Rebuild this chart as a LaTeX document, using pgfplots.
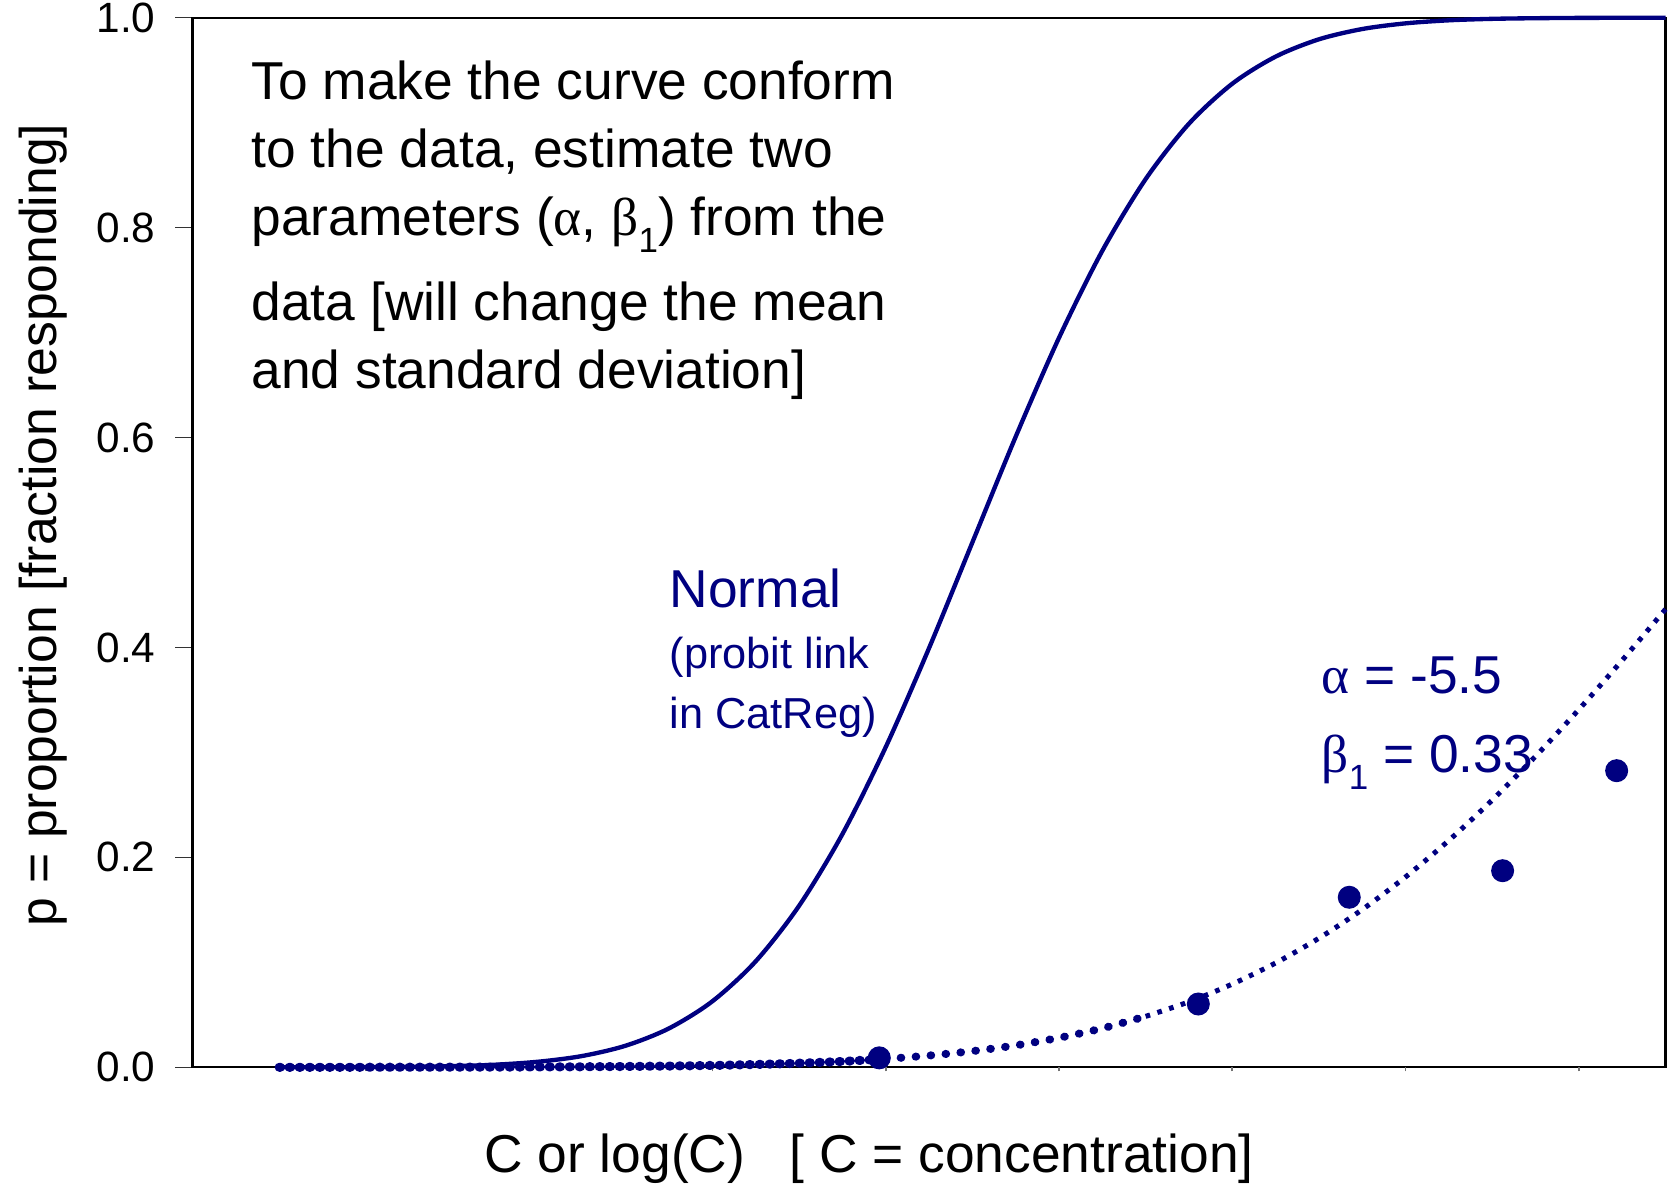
\documentclass[border=0pt]{standalone}
\usepackage{fontspec}
\setmainfont{Liberation Sans}
\newfontfamily\grk{Liberation Serif}
\usepackage{pgfplots}
\pgfplotsset{compat=1.18}
\definecolor{navy}{RGB}{0,0,128}
\newcommand\sub[1]{\raisebox{-0.31em}{\fontsize{10.5}{11}\selectfont #1}}
\begin{document}
\begin{tikzpicture}
\useasboundingbox (0,0) rectangle (502.5pt,355.8pt);
\begin{axis}[
  at={(57.75pt,35.61pt)}, anchor=south west,
  scale only axis, width=441.9pt, height=314.88pt,
  xmin=0, xmax=8.5, ymin=0, ymax=1,
  xtick=\empty,
  extra x ticks={1,2,3,4,5,6,7,8},
  extra x tick labels={},
  extra x tick style={major tick length=1.2pt, tick style={black!55, line width=0.5pt}},
  ytick={0,0.2,0.4,0.6,0.8,1.0},
  tick align=outside, tick pos=left,
  major tick length=5.25pt,
  y tick style={black!80, line width=0.4pt},
  axis line style={line width=0.7pt},
  yticklabel style={font=\fontsize{12.7}{14}\selectfont, inner sep=0pt, xshift=-5.7pt},
  /pgf/number format/.cd, fixed, fixed zerofill, precision=1, assume math mode=true,
  /pgfplots/.cd,
  clip=false,
]
% Normal curve (probit)
\addplot[navy, line width=1.3pt, smooth] coordinates {
 (0.5,0.00002) (0.75,0.00007) (1.0,0.00018) (1.25,0.00046) (1.5,0.0011)
 (1.75,0.0025) (2.0,0.0054) (2.25,0.0108) (2.5,0.0206) (2.75,0.0371)
 (3.0,0.0629) (3.25,0.1010) (3.5,0.1538) (3.75,0.2221) (4.0,0.3050)
 (4.25,0.3993) (4.5,0.5) (4.75,0.6007) (5.0,0.6950) (5.25,0.7779)
 (5.5,0.8462) (5.75,0.8990) (6.0,0.9371) (6.25,0.9629) (6.5,0.9794)
 (6.75,0.9892) (7.0,0.9946) (7.25,0.9975) (7.5,0.9989) (7.75,0.9995)
 (8.0,0.9998) (8.25,0.9999) (8.5,1.0)
};
% fitted curve, dotted (three pieces with decreasing dot size)
\addplot[navy, line width=2.7pt, line cap=round, dash pattern=on 0.4pt off 2.6pt, smooth] coordinates {
 (0.5,0.00002) (0.75,0.00003) (1.0,0.00005) (1.25,0.00008) (1.5,0.00013)
 (1.75,0.0002) (2.0,0.00033) (2.25,0.0005) (2.5,0.0008) (2.75,0.0012)
 (3.0,0.0018) (3.25,0.0027) (3.5,0.0039) (3.75,0.0056) (4.0,0.0080)
};
\addplot[navy, line width=2.4pt, line cap=round, dash pattern=on 0.2pt off 4.3pt, smooth] coordinates {
 (4.0,0.0080) (4.25,0.0112) (4.5,0.0154) (4.75,0.0209) (5.0,0.0281)
 (5.25,0.0371) (5.5,0.0485)
};
\addplot[navy, line width=1.5pt, dash pattern=on 1.4pt off 2.3pt, smooth] coordinates {
 (5.5,0.0485) (5.75,0.0624) (6.0,0.0793) (6.25,0.0994) (6.5,0.1230)
 (6.75,0.1503) (7.0,0.1814) (7.25,0.2162) (7.5,0.2546) (7.75,0.2963)
 (8.0,0.3409) (8.25,0.3878) (8.5,0.4364)
};
% observed data
\addplot[only marks, mark=*, mark size=3.25pt, navy] coordinates {
 (3.963,0.009) (5.804,0.0603) (6.675,0.162) (7.560,0.1873) (8.218,0.2826)
};
\end{axis}
\begin{scope}[x=0.3pt, y=-0.3pt, yshift=355.8pt, every node/.style={inner sep=0pt}]
\node[anchor=base west, font=\fontsize{16}{19}\selectfont] at (251,99.4) {To make the curve conform};
\node[anchor=base west, font=\fontsize{16}{19}\selectfont] at (251,167.7) {to the data, estimate two};
\node[anchor=base west, font=\fontsize{16}{19}\selectfont] at (251,236) {parameters ({\grk α}, {\grk β}\sub{1}) from the};
\node[anchor=base west, font=\fontsize{16}{19}\selectfont] at (251,320.5) {data [will change the mean};
\node[anchor=base west, font=\fontsize{16}{19}\selectfont] at (251,388.9) {and standard deviation]};
\node[anchor=base west, font=\fontsize{16}{19}\selectfont, text=navy] at (669,608) {Normal};
\node[anchor=base west, font=\fontsize{13}{15}\selectfont, text=navy] at (669,668) {(probit link};
\node[anchor=base west, font=\fontsize{13}{15}\selectfont, text=navy] at (669,728) {in CatReg)};
\node[anchor=base west, font=\fontsize{16}{19}\selectfont, text=navy] at (1321,693.5) {{\grk α} = -5.5};
\node[anchor=base west, font=\fontsize{16}{19}\selectfont, text=navy] at (1321,772.5) {{\grk β}\sub{1} = 0.33};
\node[anchor=center, font=\fontsize{16}{19}\selectfont] at (869,1159) {C or log(C)\ \ \ [ C = concentration]};
\node[anchor=center, rotate=90, font=\fontsize{15.5}{18}\selectfont] at (43,525) {p = proportion [fraction responding]};
\end{scope}
\end{tikzpicture}
\end{document}
